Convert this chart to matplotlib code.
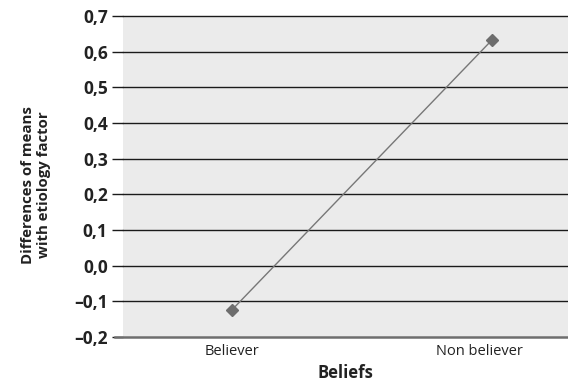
import matplotlib
matplotlib.use("Agg")
import matplotlib.pyplot as plt
import matplotlib.transforms as mtransforms

categories = ["Believer", "Non believer"]
values = [-0.124, 0.633]
yticks = [-0.2, -0.1, 0.0, 0.1, 0.2, 0.3, 0.4, 0.5, 0.6, 0.7]
ytick_labels = ["\u20130,2", "\u20130,1", "0,0", "0,1", "0,2", "0,3", "0,4", "0,5", "0,6", "0,7"]

plt.rcParams['font.family'] = ['Open Sans', 'DejaVu Sans']

fig = plt.figure(figsize=(5.68, 3.86), dpi=100)
ax = fig.add_axes([123/568, 49/386, 1 - 123/568, (337-16)/386])
ax.set_facecolor("#ebebeb")

x = list(range(len(categories)))
ax.plot(x, values, color="#777777", lw=1.0, marker="D", markersize=6,
        markerfacecolor="#6d6d6d", markeredgecolor="#6d6d6d", zorder=3)

ax.set_xlim(-0.419, 1.292)
ax.set_ylim(-0.2, 0.7)
ax.set_yticks(yticks)
ax.set_yticklabels(ytick_labels, fontsize=12.5, fontweight="bold", color="#222222")
for yv in yticks[1:]:
    ax.axhline(yv, color="#1a1a1a", lw=1.0, zorder=1, clip_on=False)
ax.tick_params(axis="y", length=8, width=1.0, color="#1a1a1a", pad=3)
ax.tick_params(axis="x", length=0, pad=5)
ax.set_xticks(x)
ax.set_xticklabels(categories, fontsize=10.5, color="#222222")
lbls = ax.get_xticklabels()
lbls[1].set_transform(lbls[1].get_transform() + mtransforms.ScaledTranslation(-13/100, 0, fig.dpi_scale_trans))

for s in ["top", "right", "left"]:
    ax.spines[s].set_visible(False)
ax.spines["bottom"].set_color("#6e6e6e")
ax.spines["bottom"].set_linewidth(1.8)
ax.spines["bottom"].set_bounds(-0.419 - 8/260, 1.292)

ax.set_xlabel("Beliefs", fontsize=12, fontweight="bold", color="#222222", labelpad=4)
fig.text(36/568, 1 - 185/386, "Differences of means\nwith etiology factor", rotation=90,
         ha="center", va="center", fontsize=10.8, fontweight="bold", color="#222222",
         linespacing=1.1)

fig.savefig("out.png", dpi=100)
